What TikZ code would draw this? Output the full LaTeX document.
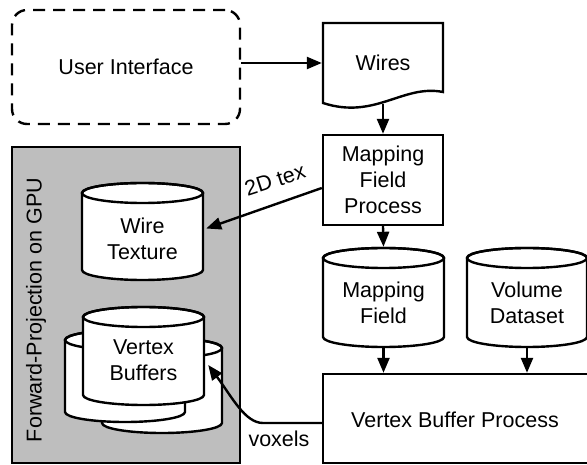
\documentclass[tikz,border=0pt]{standalone}
\usepackage{fontspec}
\setmainfont{Liberation Sans}
\usetikzlibrary{arrows.meta,calc}
\definecolor{gpugray}{HTML}{BEBEBE}
% #1 xc, #2 top, #3 width, #4 height
\newcommand{\mycyl}[4]{%
  \path[cylbody] ({#1-#3/2},{#2+10}) -- ({#1-#3/2},{#2+#4-10})
    arc[start angle=180,end angle=0,x radius={#3/2},y radius=10]
    -- ({#1+#3/2},{#2+10})
    arc[start angle=0,end angle=-180,x radius={#3/2},y radius=10] -- cycle;
  \draw ({#1},{#2+10}) ellipse[x radius={#3/2},y radius=10];
}
\begin{document}
\begin{tikzpicture}[x=1pt,y=-1pt,line width=2.4pt,
  font=\fontsize{21.5}{26}\selectfont,
  arr/.style={-{Triangle[length=15pt,width=12pt]}},
  box/.style={draw,fill=white,align=center,inner sep=0pt},
  lbl/.style={align=center,inner sep=0pt},
  cylbody/.style={draw,fill=white}]
\useasboundingbox (0,0) rectangle (587,465);

% GPU container
\node[draw,fill=gpugray,minimum width=228pt,minimum height=316pt] (gpu) at (126,305) {};
\node[lbl,rotate=90] (gpulbl) at (36,310) {Forward-Projection on GPU};

% User interface
\node[draw,dashed,dash pattern=on 12pt off 8pt,rounded corners=15pt,
  minimum width=228pt,minimum height=114pt,align=center] (ui) at (126,67) {User Interface};

% Wires document
\draw[fill=white] (323,23) -- (443,23) -- (443,92)
  .. controls (403,84) and (375,120) .. (323,103) -- cycle;
\node[lbl,minimum width=120pt,minimum height=80pt] (wires) at (383,63) {Wires};

% Mapping field process
\node[box,minimum width=120pt,minimum height=90pt] (mfp) at (383,180) {Mapping\\Field\\Process};

% Cylinders
\mycyl{383.5}{248}{121}{99}
\node[lbl,minimum width=121pt,minimum height=99pt] (mf) at (383.5,297.5) {};
\node[lbl] (mftxt) at (383.5,303) {Mapping\\Field};

\mycyl{527}{248}{120}{99}
\node[lbl,minimum width=120pt,minimum height=99pt] (vd) at (527,297.5) {};
\node[lbl] (vdtxt) at (527,303) {Volume\\Dataset};

\mycyl{142.5}{183}{121}{97}
\node[lbl,minimum width=121pt,minimum height=97pt] (wt) at (142.5,231.5) {};
\node[lbl] (wttxt) at (142.5,239) {Wire\\Texture};

\mycyl{162}{338}{120}{95}
\mycyl{125}{330}{120}{92}
\mycyl{143.5}{307}{121}{98}
\node[lbl,minimum width=121pt,minimum height=98pt] (vb) at (143.5,356) {};
\node[lbl] (vbtxt) at (143.5,360) {Vertex\\Buffers};

% Vertex buffer process
\node[box,minimum width=266pt,minimum height=89pt] (vbp) at (456,418.5) {};
\node[lbl] (vbptxt) at (455,420) {Vertex Buffer Process};

% Connectors
\draw[arr] (ui.east |- wires.west) -- (wires.west);
\draw[arr] (wires.south) -- (mfp.north);
\draw[arr] (mfp.south) -- (mf.north);
\draw[arr] (mf.south) -- (mf.south |- vbp.north);
\draw[arr] (vd.south) -- (vd.south |- vbp.north);
\draw[arr] ($(mfp.west)+(0,8)$) -- ($(wt.east)+(2,-3)$);
\node[lbl,rotate=18] (texlbl) at (275,180) {2D tex};
\draw[arr] ($(vbp.west)+(0,4.5)$) -- (263,423)
  .. controls (245,423) and (232,397) .. ($(vb.east)+(3,9)$);
\node[lbl] (vox) at (279,439) {voxels};
\end{tikzpicture}
\end{document}
